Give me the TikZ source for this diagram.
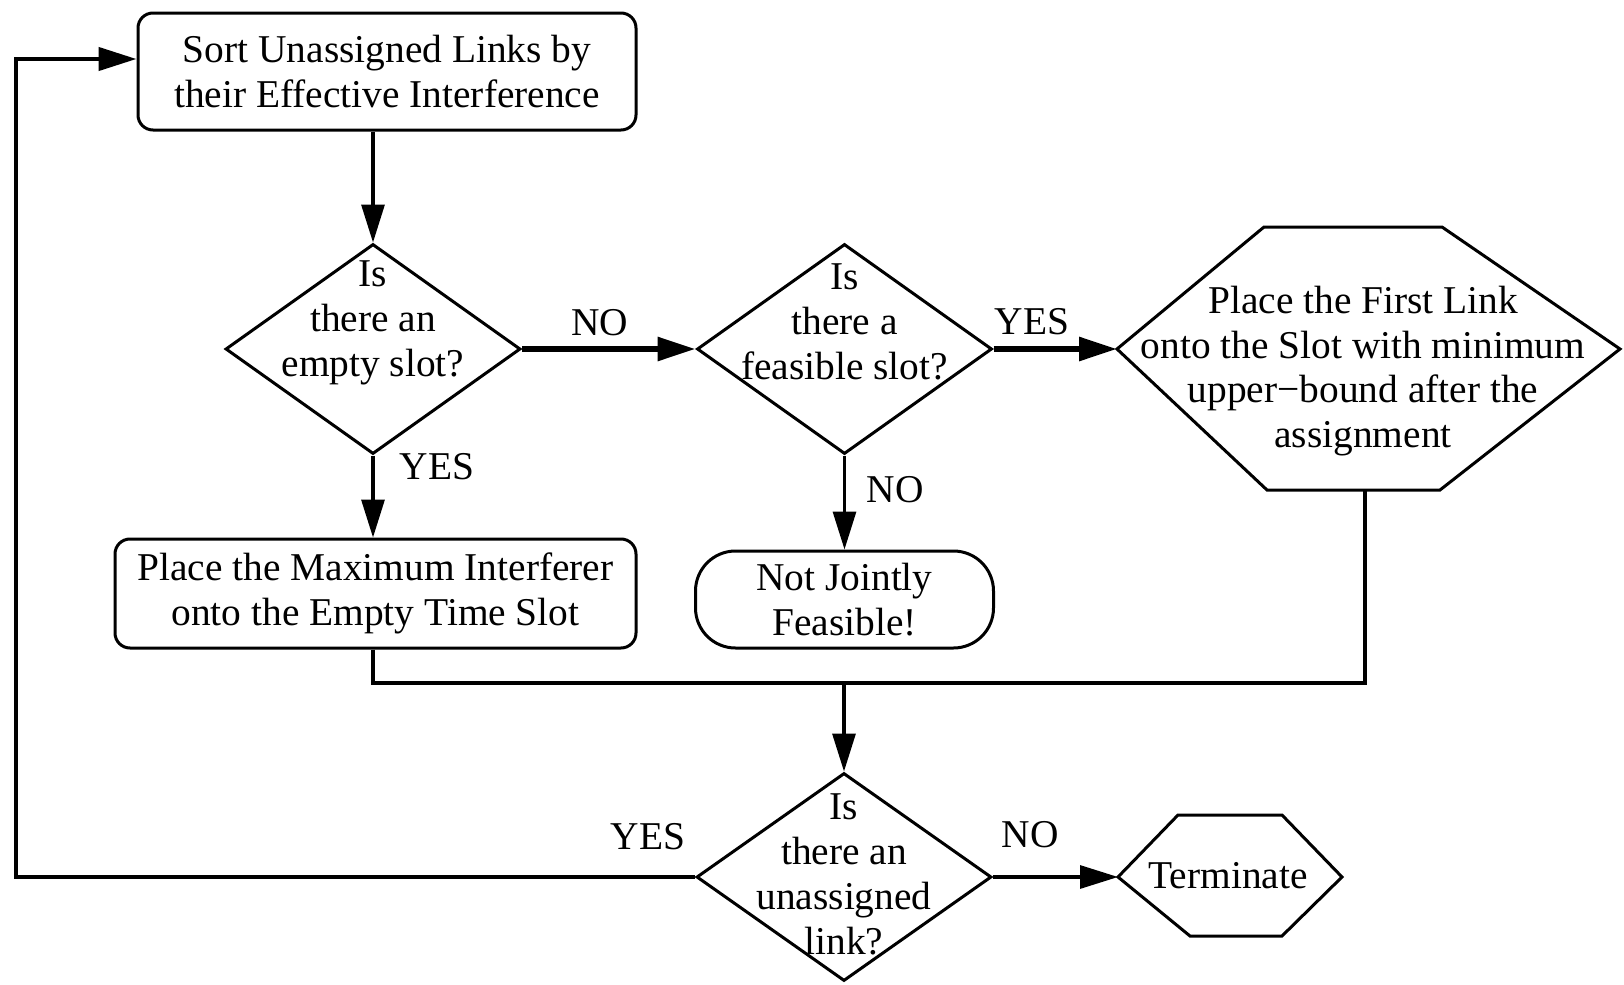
\documentclass[tikz,border=0pt]{standalone}
\usepackage{fontspec}
\setmainfont{Liberation Serif}
\usetikzlibrary{shapes.geometric,arrows.meta}
\begin{document}
\begin{tikzpicture}[x=0.5pt,y=-0.5pt,
  txt/.style={font=\fontsize{19.7}{22.4}\selectfont, align=center, inner sep=0pt},
  box/.style={draw, line width=1.5pt, rounded corners=7.5pt, txt},
  dia/.style={draw, diamond, line width=1.5pt, minimum width=147.5pt, minimum height=105pt, inner sep=0pt},
  hexa/.style={draw, line width=1.5pt, line join=miter},
  conn/.style={line width=1.6pt, -{Triangle[length=19pt,width=11.5pt]}},
  thickconn/.style={conn, line width=3pt},
  flow/.style={line width=2.2pt}]
\useasboundingbox (0,0) rectangle (1624,985);
% nodes
\node[box, minimum width=249pt, minimum height=58.5pt] (sort) at (387,71.5)
  {Sort Unassigned Links by\\their Effective Interference};
\node[dia] (d1) at (373,349) {};
\node[txt] (t1) at (373,323) {Is\\there an\\empty slot?};
\node[dia] (d2) at (844.5,349) {};
\node[txt] (t2) at (844.5,322) {Is\\there a\\feasible slot?};
\draw[hexa] (1117,349) coordinate (h1w) -- (1264,227) -- (1442,227) -- (1620,349)
  -- (1440,490) -- (1267,490) -- cycle;
\coordinate (h1s) at (1365,490);
\node[txt] (t3) at (1363,371) {Place the First Link\\onto the Slot with minimum\\upper−bound after the\\assignment};
\node[box, minimum width=260.5pt, minimum height=54.5pt] (place) at (375.5,593.5)
  {Place the Maximum Interferer\\onto the Empty Time Slot};
\node[box, rounded corners=20pt, minimum width=149pt, minimum height=48.5pt] (njf) at (844.5,599.5)
  {Not Jointly\\Feasible!};
\node[dia, minimum height=104pt] (d3) at (844,877) {};
\node[txt] (t4) at (844,874.5) {Is\\there an\\unassigned\\link?};
\draw[hexa] (1118,877) coordinate (tw) -- (1178,815) -- (1282,815) -- (1342,877)
  -- (1282,936) -- (1190,936) -- cycle;
\node[txt] (term) at (1228,876) {Terminate};
% labels
\node[txt] (no1) at (600,323) {NO};
\node[txt] (yes1) at (1032,322) {YES};
\node[txt] (yes2) at (437,467) {YES};
\node[txt] (no2) at (895,490) {NO};
\node[txt] (yes3) at (648,837) {YES};
\node[txt] (no3) at (1030,835) {NO};
% connectors
\draw[conn] (d1.north |- sort.south) -- (d1.north);
\draw[thickconn] (d1.east) -- (d2.west);
\draw[thickconn] (d2.east) -- (h1w);
\draw[conn] (d1.south) -- (d1.south |- place.north);
\draw[conn] (d2.south) -- (d2.south |- njf.north);
\coordinate (m) at (844,683);
\draw[flow] (d1.south |- place.south) |- (m) -| (h1s);
\draw[conn] (m) -- (d3.north);
\coordinate (loop) at (16,59);
\draw[conn, line width=2.2pt] (d3.west) -| (loop) -- (loop -| sort.west);
\draw[conn] (d3.east) -- (tw);
\end{tikzpicture}
\end{document}
